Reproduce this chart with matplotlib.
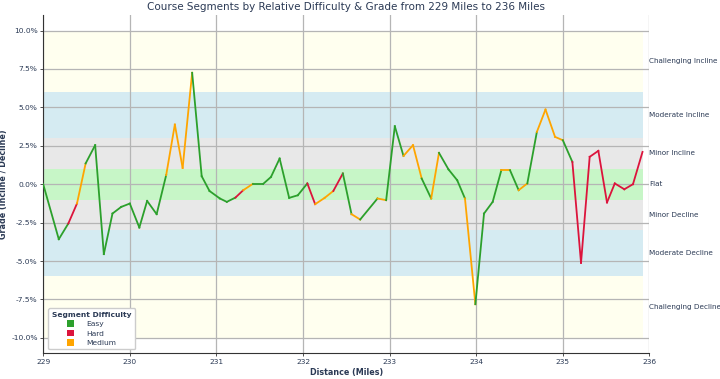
import matplotlib.pyplot as plt
import matplotlib.transforms as mtransforms
from matplotlib.patches import Patch
from matplotlib.ticker import FuncFormatter

# distance (miles) and grade (%)
distance = [229.00, 229.18, 229.29, 229.39, 229.49, 229.60, 229.70, 229.80, 229.90, 230.00,
            230.11, 230.20, 230.31, 230.42, 230.52, 230.61, 230.72, 230.83, 230.92, 231.04,
            231.12, 231.22, 231.31, 231.42, 231.54, 231.63, 231.73, 231.84, 231.94, 232.05,
            232.14, 232.25, 232.35, 232.46, 232.56, 232.66, 232.86, 232.96, 233.06, 233.16,
            233.27, 233.37, 233.48, 233.57, 233.68, 233.78, 233.87, 233.99, 234.09, 234.19,
            234.29, 234.39, 234.49, 234.59, 234.70, 234.80, 234.91, 235.00, 235.11, 235.21,
            235.31, 235.41, 235.51, 235.60, 235.71, 235.81, 235.92]
grade = [0.00, -3.58, -2.56, -1.26, 1.35, 2.54, -4.55, -1.91, -1.48, -1.26,
         -2.82, -1.09, -1.95, 0.59, 3.88, 1.06, 7.25, 0.52, -0.44, -0.93,
         -1.15, -0.87, -0.39, 0.02, 0.02, 0.47, 1.67, -0.89, -0.72, 0.05,
         -1.30, -0.89, -0.44, 0.70, -1.95, -2.30, -0.93, -1.04, 3.77, 1.84,
         2.54, 0.37, -0.93, 2.04, 0.96, 0.26, -0.93, -7.81, -1.91, -1.15,
         0.91, 0.91, -0.39, 0.05, 3.40, 4.86, 3.08, 2.86, 1.45, -5.12,
         1.78, 2.17, -1.19, 0.05, -0.33, 0.00, 2.10]
# difficulty of each segment (point i -> i+1)
difficulty = list("GGROGGGGGGGGGOOOGGGGGROGGGGGGROORGOGOGGOOGOGGGOGGGOGOGOOOGRRRRRRRR")

diff_names = {'G': 'Easy', 'R': 'Hard', 'O': 'Medium'}
diff_colors = {'G': '#2ca02c', 'R': '#dc143c', 'O': '#ffa500'}

band_edges = [(6, 10), (3, 6), (1, 3), (-1, 1), (-3, -1), (-6, -3), (-10, -6)]
band_colors = ['lightyellow', 'lightblue', 'lightgray', 'lightgreen', 'lightgray', 'lightblue', 'lightyellow']
zone_labels = ['Challenging Incline', 'Moderate Incline', 'Minor Incline', 'Flat',
               'Minor Decline', 'Moderate Decline', 'Challenging Decline']
zone_label_y = [8, 4.5, 2, 0, -2, -4.5, -8]

text_color = '#2b3a55'

fig = plt.figure(figsize=(7.2, 3.79), dpi=100)
ax = fig.add_axes([0.060, 0.068, 0.842, 0.892])

for (lo, hi), c in zip(band_edges, band_colors):
    ax.fill_between([distance[0], distance[-1]], lo, hi, color=c, alpha=0.5, linewidth=0, zorder=1)

for i, d in enumerate(difficulty):
    ax.plot(distance[i:i + 2], grade[i:i + 2], color=diff_colors[d], linewidth=1.3, zorder=3)

ax.set_xlim(229, 236)
ax.set_ylim(-11, 11)
ax.set_yticks([-10, -7.5, -5, -2.5, 0, 2.5, 5, 7.5, 10])
ax.yaxis.set_major_formatter(FuncFormatter(lambda v, p: f'{v:.1f}%'))
ax.grid(True, color='#b5b5b5', linewidth=0.9, zorder=2)
ax.spines['top'].set_visible(False)
ax.spines['right'].set_visible(False)
ax.spines['left'].set_color('#333333')
ax.spines['bottom'].set_color('#333333')
ax.tick_params(labelsize=5.4, colors='#333333', labelcolor=text_color, length=2.5, width=0.6, pad=1.5)

trans = mtransforms.blended_transform_factory(ax.transAxes, ax.transData)
for lab, y in zip(zone_labels, zone_label_y):
    ax.text(0.999, y, lab, transform=trans, fontsize=5.2, color=text_color,
            va='center', ha='left')

ax.set_title('Course Segments by Relative Difficulty & Grade from 229 Miles to 236 Miles',
             fontsize=7.5, color=text_color, pad=4)
ax.set_xlabel('Distance (Miles)', fontsize=5.8, fontweight='bold', color=text_color, labelpad=2)
ax.set_ylabel('Grade (Incline / Decline)', fontsize=5.8, fontweight='bold', color=text_color, labelpad=2)

handles = [Patch(facecolor=diff_colors[k], label=diff_names[k]) for k in ['G', 'R', 'O']]
leg = ax.legend(handles=handles, title='Segment Difficulty', loc='lower left',
                bbox_to_anchor=(0.002, 0.0), fontsize=5.4, title_fontsize=5.4,
                handlelength=1.0, handleheight=1.0, borderpad=0.5, labelspacing=0.3,
                handletextpad=1.6, framealpha=1.0)
leg.get_title().set_fontweight('bold')
leg.get_title().set_color(text_color)
for t in leg.get_texts():
    t.set_color(text_color)

fig.savefig('out.png', dpi=100)
